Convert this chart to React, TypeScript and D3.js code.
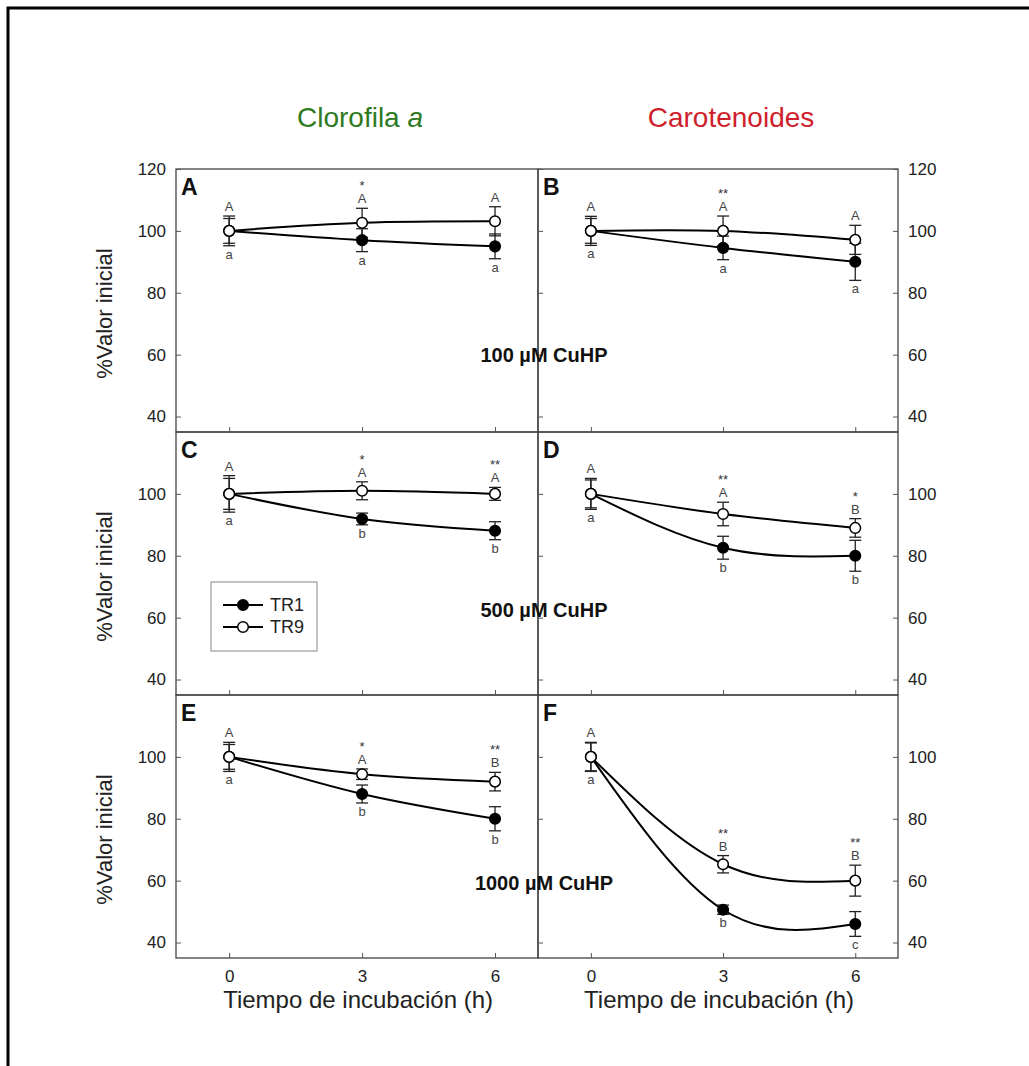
import * as d3 from "d3";
import { useEffect, useRef } from "react";

// hours of incubation
const times = [0, 3, 6];
const panelLabels = ["A", "B", "C", "D", "E", "F"];

// % of initial value, per panel (A..F)
const tr1Mean = [
  [100, 97, 95],
  [100, 94.5, 90],
  [100, 91.9, 88.1],
  [100, 82.6, 80],
  [100, 88, 80],
  [100, 50.6, 46],
];
const tr1Err = [
  [4, 3.7, 4],
  [4, 3.8, 6],
  [5, 1.9, 2.9],
  [4.5, 3.7, 5],
  [4, 2.9, 3.9],
  [4.5, 1.5, 4],
];
const tr9Mean = [
  [100, 102.6, 103.1],
  [100, 100, 97.1],
  [100, 101, 100],
  [100, 93.5, 89],
  [100, 94.4, 92],
  [100, 65.3, 60],
];
const tr9Err = [
  [4.8, 4.7, 4.7],
  [4.7, 4.8, 4.7],
  [5.9, 2.9, 2.1],
  [5, 3.8, 3],
  [4.7, 1.7, 3],
  [4.7, 2.8, 5],
];
const upperLetters = [
  ["A", "A", "A"],
  ["A", "A", "A"],
  ["A", "A", "A"],
  ["A", "A", "B"],
  ["A", "A", "B"],
  ["A", "B", "B"],
];
const lowerLetters = [
  ["a", "a", "a"],
  ["a", "a", "a"],
  ["a", "b", "b"],
  ["a", "b", "b"],
  ["a", "b", "b"],
  ["a", "b", "c"],
];
const stars = [
  ["", "*", ""],
  ["", "**", ""],
  ["", "*", "**"],
  ["", "**", "*"],
  ["", "*", "**"],
  ["", "**", "**"],
];
const doses = ["100 µM CuHP", "500 µM CuHP", "1000 µM CuHP"];
const seriesNames = ["TR1", "TR9"];
const yTicks = [40, 60, 80, 100, 120];

const FONT = "'Liberation Sans', Arial, sans-serif";

const App = () => {
  const ref: any = useRef();

  useEffect(() => {
    const svg = d3.select(ref.current);
    svg.selectAll("*").remove();

    // outer frame
    svg.append("rect")
      .attr("x", 8).attr("y", 8)
      .attr("width", 1100).attr("height", 1100)
      .attr("fill", "none").attr("stroke", "#000").attr("stroke-width", 3);

    // column titles
    const t1 = svg.append("text")
      .attr("x", 360).attr("y", 127)
      .attr("text-anchor", "middle")
      .style("font", `28px ${FONT}`)
      .attr("fill", "#2e7a1f");
    t1.append("tspan").text("Clorofila ");
    t1.append("tspan").style("font-style", "italic").text("a");

    svg.append("text")
      .attr("x", 731).attr("y", 127)
      .attr("text-anchor", "middle")
      .style("font", `28px ${FONT}`)
      .attr("fill", "#cf1f2c")
      .text("Carotenoides");

    const colLeft = [176, 538];
    const colRight = [538, 898];
    const rowTop = [169, 432, 695];
    const rowH = 263;

    const line = d3.line<number>().curve(d3.curveNatural);

    panelLabels.forEach((lab, i) => {
      const row = Math.floor(i / 2), col = i % 2;
      const x = d3.scaleLinear().domain([-1.2, 6.97]).range([colLeft[col], colRight[col]]);
      const y = d3.scaleLinear().domain([35, 120]).range([rowTop[row] + rowH, rowTop[row]]);
      const g = svg.append("g");

      // frame
      g.append("rect")
        .attr("x", colLeft[col]).attr("y", rowTop[row])
        .attr("width", colRight[col] - colLeft[col]).attr("height", rowH)
        .attr("fill", "none").attr("stroke", "#444").attr("stroke-width", 1.3);

      const ticks = row === 0 ? yTicks : yTicks.slice(0, 4);

      // left axis (ticks inward)
      const left = g.append("g")
        .attr("transform", `translate(${colLeft[col]},0)`)
        .call(d3.axisLeft(y).tickValues(ticks).tickSize(-5).tickPadding(10).tickFormat(d3.format("d")));
      left.select(".domain").remove();
      left.selectAll("line").attr("stroke", "#555");
      left.selectAll("text").style("font", `17px ${FONT}`).attr("fill", "#222");
      if (col === 1) left.selectAll("text").remove();

      if (col === 1) {
        const right = g.append("g")
          .attr("transform", `translate(${colRight[col]},0)`)
          .call(d3.axisRight(y).tickValues(ticks).tickSize(-5).tickPadding(10).tickFormat(d3.format("d")));
        right.select(".domain").remove();
        right.selectAll("line").attr("stroke", "#555");
        right.selectAll("text").style("font", `17px ${FONT}`).attr("fill", "#222");
      }

      // bottom axis
      const bottom = g.append("g")
        .attr("transform", `translate(0,${rowTop[row] + rowH})`)
        .call(d3.axisBottom(x).tickValues(times).tickSize(-5).tickPadding(12).tickFormat(d3.format("d")));
      bottom.select(".domain").remove();
      bottom.selectAll("line").attr("stroke", "#555");
      bottom.selectAll("text").style("font", `17px ${FONT}`).attr("fill", "#222");
      if (row < 2) bottom.selectAll("text").remove();

      // y label
      if (col === 0) {
        g.append("text")
          .attr("transform", `translate(112,${rowTop[row] + rowH / 2 + 13}) rotate(-90)`)
          .attr("text-anchor", "middle")
          .style("font", `22px ${FONT}`)
          .attr("fill", "#222")
          .text("%Valor inicial");
      }
      // x label
      if (row === 2) {
        g.append("text")
          .attr("x", x(3) - 4).attr("y", 1008)
          .attr("text-anchor", "middle")
          .style("font", `24px ${FONT}`)
          .attr("fill", "#222")
          .text("Tiempo de incubación (h)");
      }

      // panel letter
      g.append("text")
        .attr("x", colLeft[col] + 5).attr("y", rowTop[row] + 26)
        .style("font", `bold 23px ${FONT}`)
        .attr("fill", "#111")
        .text(lab);

      const series = [
        { mean: tr1Mean[i], err: tr1Err[i], fill: "#000" },
        { mean: tr9Mean[i], err: tr9Err[i], fill: "#fff" },
      ];

      // curves
      series.forEach(s => {
        g.append("path")
          .attr("d", line(times.map((t, k) => [x(t), y(s.mean[k])]) as any))
          .attr("fill", "none").attr("stroke", "#000").attr("stroke-width", 2);
      });

      // error bars
      series.forEach(s => {
        times.forEach((t, k) => {
          const cx = x(t), lo = y(s.mean[k] - s.err[k]), hi = y(s.mean[k] + s.err[k]);
          g.append("line").attr("x1", cx).attr("x2", cx).attr("y1", lo).attr("y2", hi)
            .attr("stroke", "#222").attr("stroke-width", 1.3);
          [lo, hi].forEach(v => {
            g.append("line").attr("x1", cx - 6).attr("x2", cx + 6).attr("y1", v).attr("y2", v)
              .attr("stroke", "#222").attr("stroke-width", 1.3);
          });
        });
      });

      // markers
      series.forEach(s => {
        g.selectAll(null)
          .data(times)
          .join("circle")
          .attr("cx", d => x(d))
          .attr("cy", (d, k) => y(s.mean[k]))
          .attr("r", 5.3)
          .attr("fill", s.fill)
          .attr("stroke", "#000").attr("stroke-width", 1.5);
      });

      // significance letters
      times.forEach((t, k) => {
        const top = y(Math.max(tr1Mean[i][k] + tr1Err[i][k], tr9Mean[i][k] + tr9Err[i][k]));
        const bot = y(Math.min(tr1Mean[i][k] - tr1Err[i][k], tr9Mean[i][k] - tr9Err[i][k]));
        g.append("text").attr("x", x(t)).attr("y", top - 5)
          .attr("text-anchor", "middle").style("font", `13px ${FONT}`).attr("fill", "#444")
          .text(upperLetters[i][k]);
        if (stars[i][k]) {
          g.append("text").attr("x", x(t)).attr("y", top - 18)
            .attr("text-anchor", "middle").style("font", `13px ${FONT}`).attr("fill", "#333")
            .text(stars[i][k]);
        }
        g.append("text").attr("x", x(t)).attr("y", bot + 13)
          .attr("text-anchor", "middle").style("font", `13px ${FONT}`).attr("fill", "#444")
          .text(lowerLetters[i][k]);
      });
    });

    // dose labels across the divider
    doses.forEach((d, r) => {
      svg.append("text")
        .attr("x", 544).attr("y", [362, 617, 890][r])
        .attr("text-anchor", "middle")
        .style("font", `bold 20px ${FONT}`)
        .attr("fill", "#111")
        .text(d);
    });

    // legend
    const lg = svg.append("g");
    lg.append("rect").attr("x", 211).attr("y", 582).attr("width", 106).attr("height", 69)
      .attr("fill", "#fff").attr("stroke", "#999").attr("stroke-width", 1.2);
    seriesNames.forEach((n, k) => {
      const yy = 605 + k * 22;
      lg.append("line").attr("x1", 223).attr("x2", 263).attr("y1", yy).attr("y2", yy)
        .attr("stroke", "#000").attr("stroke-width", 2);
      lg.append("circle").attr("cx", 243).attr("cy", yy).attr("r", 5.3)
        .attr("fill", k === 0 ? "#000" : "#fff").attr("stroke", "#000").attr("stroke-width", 1.5);
      lg.append("text").attr("x", 270).attr("y", yy + 6)
        .style("font", `18px ${FONT}`).attr("fill", "#222").text(n);
    });
  }, []);

  return (
    <svg ref={ref} width={1029} height={1066}
      style={{ position: "absolute", left: 0, top: 0, background: "#fff" }} />
  );
};

export default App;
